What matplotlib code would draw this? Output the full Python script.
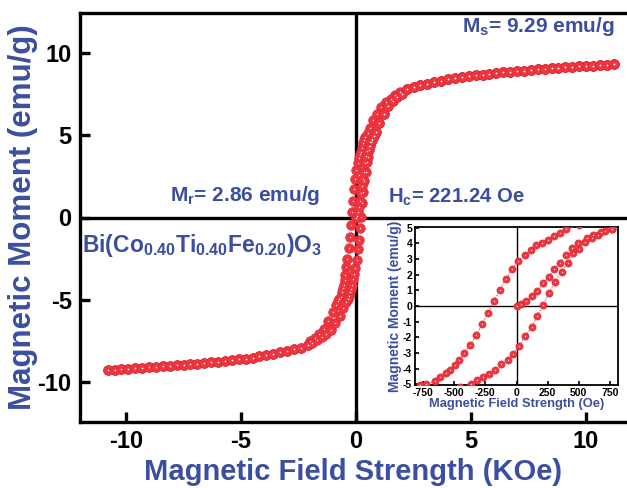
import numpy as np
import matplotlib
matplotlib.use("Agg")
import matplotlib.pyplot as plt

plt.rcParams['font.family'] = ['Liberation Sans', 'DejaVu Sans']
plt.rcParams['font.weight'] = 'bold'
plt.rcParams['axes.unicode_minus'] = False
plt.rcParams['mathtext.fontset'] = 'custom'
plt.rcParams['mathtext.rm'] = 'Liberation Sans:bold'
plt.rcParams['mathtext.bf'] = 'Liberation Sans:bold'
plt.rcParams['mathtext.it'] = 'Liberation Sans:bold'

BLUE = '#3b4ea0'
RED = '#ee3540'

# ---- data (field in KOe, moment in emu/g) ----
# high field part, both branches overlap here
far_pos_H = [2.2, 2.5, 2.8, 3.1, 3.4, 3.7, 4.0, 4.3, 4.6, 4.9, 5.2, 5.5, 5.8, 6.1, 6.4, 6.7,
             7.0, 7.3, 7.6, 7.9, 8.2, 8.5, 8.8, 9.1, 9.4, 9.7, 10.0, 10.3, 10.6, 10.9, 11.2]
far_pos_M = [7.8, 7.92, 8.02, 8.12, 8.2, 8.3, 8.38, 8.45, 8.51, 8.57, 8.62, 8.67, 8.72, 8.76, 8.8, 8.84,
             8.88, 8.91, 8.95, 8.98, 9.01, 9.04, 9.07, 9.1, 9.13, 9.16, 9.18, 9.21, 9.24, 9.26, 9.29]
far_neg_H = [-2.1, -2.4, -2.7, -3.0, -3.3, -3.6, -3.9, -4.2, -4.5, -4.8, -5.1, -5.4, -5.7, -6.0, -6.3,
             -6.6, -6.9, -7.2, -7.5, -7.8, -8.1, -8.4, -8.7, -9.0, -9.3, -9.6, -9.9, -10.2, -10.5, -10.8]
far_neg_M = [-7.75, -7.9, -8.0, -8.1, -8.18, -8.27, -8.35, -8.42, -8.49, -8.55, -8.6, -8.66, -8.7, -8.75, -8.79,
             -8.83, -8.87, -8.9, -8.94, -8.97, -9.0, -9.03, -9.06, -9.09, -9.12, -9.15, -9.18, -9.21, -9.24, -9.27]

# low field part of each branch
desc_H = [1.9, 1.7, 1.5, 1.3, 1.1, 0.9, 0.75, 0.6, 0.5, 0.4, 0.35, 0.3, 0.255, 0.206, 0.16, 0.113,
          0.067, 0.013, -0.035, -0.086, -0.134, -0.18, -0.228, -0.276, -0.322, -0.375, -0.421,
          -0.464, -0.496, -0.536, -0.568, -0.617, -0.657, -0.724, -0.777, -0.85, -1.0, -1.2, -1.4,
          -1.6, -1.8, -2.0]
desc_M = [7.6, 7.4, 7.2, 7.0, 6.7, 6.3, 5.9, 5.45, 5.15, 4.9, 4.67, 4.5, 4.24, 4.0, 3.88, 3.6,
          3.28, 2.85, 2.36, 1.73, 1.03, 0.34, -0.43, -1.16, -1.86, -2.5, -3.0,
          -3.47, -3.8, -4.07, -4.28, -4.54, -4.8, -4.97, -5.05, -5.3, -5.75, -6.3, -6.75,
          -7.05, -7.3, -7.5]
asc_H = [-1.9, -1.7, -1.5, -1.3, -1.1, -0.9, -0.7, -0.55, -0.45, -0.362, -0.314, -0.268, -0.22,
         -0.169, -0.121, -0.072, -0.027, 0.021, 0.067, 0.121, 0.166, 0.214, 0.263, 0.308, 0.362,
         0.416, 0.456, 0.504, 0.55, 0.603, 0.657, 0.71, 0.764, 0.85, 1.0, 1.2, 1.4, 1.6, 1.8, 2.0]
asc_M = [-7.6, -7.45, -7.25, -7.05, -6.8, -6.4, -5.95, -5.5, -5.15, -4.97, -4.75, -4.54, -4.33,
         -4.07, -3.73, -3.43, -3.04, -2.57, -1.93, -1.37, -0.64, 0.06, 0.86, 1.56, 2.2,
         2.78, 3.38, 3.66, 4.07, 4.35, 4.56, 4.77, 4.92, 5.2, 5.75, 6.3, 6.75, 7.05, 7.3, 7.5]
virgin_H = [0.008, 0.04, 0.08, 0.121, 0.166, 0.214, 0.263, 0.3, 0.349, 0.397, 0.442, 0.496,
            0.563, 0.617, 0.676, 0.764, 0.85, 1.0, 1.2, 1.4, 1.6, 1.8, 2.0]
virgin_M = [0.0, 0.1, 0.32, 0.64, 0.98, 1.46, 1.88, 2.36, 2.78, 3.28, 3.7, 4.03,
            4.35, 4.56, 4.71, 4.92, 5.2, 5.7, 6.3, 6.75, 7.05, 7.3, 7.5]

branches = [
    (far_pos_H[::-1] + desc_H + far_neg_H, far_pos_M[::-1] + desc_M + far_neg_M),
    (far_neg_H[::-1] + asc_H + far_pos_H, far_neg_M[::-1] + asc_M + far_pos_M),
    (virgin_H + far_pos_H, virgin_M + far_pos_M),
]

W, H = 627, 488
fig = plt.figure(figsize=(W / 100, H / 100), dpi=100)


def px_axes(left, top, right, bottom):
    return fig.add_axes([left / W, 1 - bottom / H, (right - left) / W, (bottom - top) / H])


def balls(ax, x, y, size, white, line=False, conv=1.0):
    x = np.array(x) * conv
    if line:
        ax.plot(x, y, color=RED, lw=0.6, ls=(0, (2, 1.5)), zorder=3)
    ax.plot(x, y, 'o', ms=size, color=RED, mec='#d82a33', mew=0.4, ls='none', zorder=4)
    ax.plot(x, y, 'o', ms=white, color='white', mec='none', ls='none', zorder=5, alpha=0.85)


# ---- main plot ----
ax = px_axes(80, 13, 627, 422)
for hx, my in branches:
    balls(ax, hx, my, 7.0, 1.1)
ax.axhline(0, color='black', lw=2.4, zorder=2)
ax.axvline(0, color='black', lw=2.4, zorder=2)
ax.set_xlim(-12, 11.78)
ax.set_ylim(-12.4, 12.4)
ax.set_xticks([-10, -5, 0, 5, 10])
ax.set_yticks([-10, -5, 0, 5, 10])
for s in ['left', 'bottom', 'top']:
    ax.spines[s].set_linewidth(2.4)
ax.spines['right'].set_visible(False)
ax.tick_params(direction='in', length=7, width=2.4, labelsize=17, pad=6)
for lab in ax.get_xticklabels() + ax.get_yticklabels():
    lab.set_fontweight('bold')
ax.set_xlabel('Magnetic Field Strength (KOe)', fontsize=21, color=BLUE, fontweight='bold', labelpad=3)
ax.set_ylabel('Magnetic Moment (emu/g)', fontsize=22.5, color=BLUE, fontweight='bold', labelpad=0)

ax.text(4.6, 11.6, r'M$_\mathregular{s}$= 9.29 emu/g', fontsize=15, color=BLUE,
        fontweight='bold', va='center')
ax.text(-8.1, 1.35, r'M$_\mathregular{r}$= 2.86 emu/g', fontsize=15, color=BLUE,
        fontweight='bold', va='center')
ax.text(1.4, 1.25, r'H$_\mathregular{c}$= 221.24 Oe', fontsize=14.6, color=BLUE,
        fontweight='bold', va='center')
ax.text(-11.9, -1.7, r'Bi(Co$_\mathregular{0.40}$Ti$_\mathregular{0.40}$Fe$_\mathregular{0.20}$)O$_\mathregular{3}$',
        fontsize=16.5, color=BLUE, fontweight='bold', va='center')

# ---- inset ----
ins = px_axes(415, 227, 618, 385)
for hx, my in branches:
    balls(ins, hx, my, 5.2, 1.0, line=True, conv=1000)
ins.axhline(0, color='black', lw=1.0, zorder=2)
ins.axvline(0, color='black', lw=1.0, zorder=2)
ins.set_xlim(-815, 815)
ins.set_ylim(-5.05, 5.05)
ins.set_xticks([-750, -500, -250, 0, 250, 500, 750])
ins.set_yticks(range(-5, 6))
for s in ins.spines.values():
    s.set_linewidth(1.3)
ins.tick_params(direction='in', length=3, width=1.2, labelsize=7.5, pad=2)
for lab in ins.get_xticklabels() + ins.get_yticklabels():
    lab.set_fontweight('bold')
ins.set_xlabel('Magnetic Field Strength (Oe)', fontsize=9.3, color=BLUE, fontweight='bold', labelpad=0)
ins.set_ylabel('Magnetic Moment (emu/g)', fontsize=10, color=BLUE, fontweight='bold', labelpad=1)

fig.savefig('out.png', dpi=100)
